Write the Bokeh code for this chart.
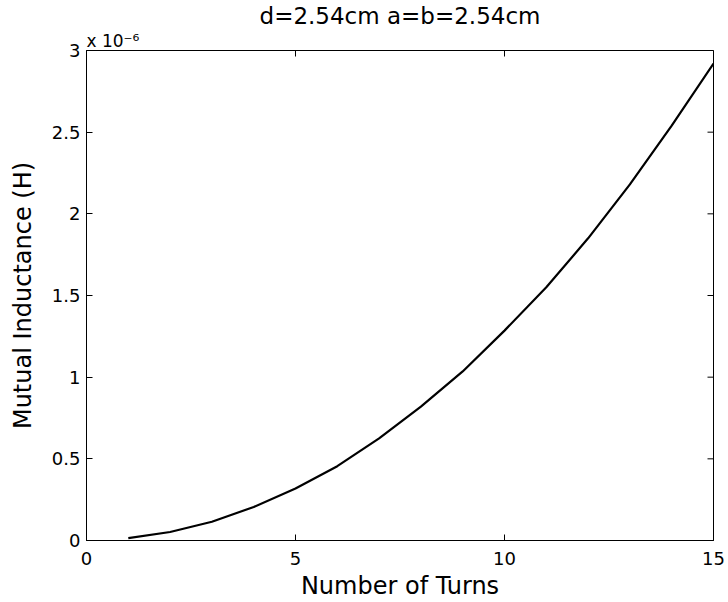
import math
from bokeh.plotting import figure
from bokeh.models import Range1d, Title, FixedTicker
from bokeh.embed import file_html
from bokeh.resources import INLINE

# Data (inductance in units of 1e-6 H)
turns = [1, 2, 3, 4, 5, 6, 7, 8, 9, 10, 11, 12, 13, 14, 15]
mutual_uH = [0.015, 0.052, 0.115, 0.205, 0.318, 0.455, 0.625, 0.82, 1.035,
             1.285, 1.55, 1.85, 2.18, 2.54, 2.92]
x_ticks = [0, 5, 10, 15]
y_ticks = [0, 0.5, 1, 1.5, 2, 2.5, 3]
y_tick_labels = {0: "0", 0.5: "0.5", 1: "1", 1.5: "1.5", 2: "2", 2.5: "2.5", 3: "3"}
title_text = "d=2.54cm a=b=2.54cm"
multiplier_text = "x 10\u207b\u2076"
xlabel = "Number of Turns"
ylabel = "Mutual Inductance (H)"

X_MIN, X_MAX = 0, 15
Y_MIN, Y_MAX = 0, 3

FONT = "DejaVu Sans"
TICK_FS = "18px"
LABEL_FS = "24px"

p = figure(width=728, height=602, output_backend="svg", toolbar_location=None,
           x_range=Range1d(X_MIN, X_MAX), y_range=Range1d(Y_MIN, Y_MAX),
           min_border_left=86, min_border_right=15, min_border_top=48,
           min_border_bottom=62)
p.background_fill_color = "white"
p.border_fill_color = "white"
p.grid.visible = False
p.outline_line_color = "black"
p.outline_line_width = 1

p.line(turns, mutual_uH, line_color="black", line_width=2.2)

# inward ticks on the top and right edges (outer halves are clipped by the frame)
p.scatter(x=x_ticks, y=[Y_MAX] * len(x_ticks), marker="dash", size=12,
          angle=math.pi / 2, line_color="black", line_width=1)
p.scatter(x=[X_MAX] * len(y_ticks), y=y_ticks, marker="dash", size=12,
          angle=0, line_color="black", line_width=1)

xa = p.xaxis[0]
ya = p.yaxis[0]
xa.ticker = FixedTicker(ticks=x_ticks)
ya.ticker = FixedTicker(ticks=y_ticks)
ya.major_label_overrides = y_tick_labels
for ax in (xa, ya):
    ax.axis_line_color = "black"
    ax.axis_line_width = 1
    ax.major_tick_in = 6
    ax.major_tick_out = 0
    ax.major_tick_line_color = "black"
    ax.minor_tick_line_color = None
    ax.major_label_text_font = FONT
    ax.major_label_text_font_size = TICK_FS
    ax.major_label_text_color = "black"
    ax.axis_label_text_font = FONT
    ax.axis_label_text_font_size = LABEL_FS
    ax.axis_label_text_font_style = "normal"
    ax.axis_label_text_color = "black"
xa.major_label_standoff = 11
ya.major_label_standoff = 6
xa.axis_label = xlabel
ya.axis_label = ylabel
xa.axis_label_standoff = 4
ya.axis_label_standoff = 12

mult = Title(text=multiplier_text, align="left", text_font=FONT,
             text_font_size="17px", text_font_style="normal", text_color="black",
             standoff=0, offset=0)
p.add_layout(mult, "above")

p.title.text = title_text
p.title.align = "center"
p.title.text_font = FONT
p.title.text_font_size = "23px"
p.title.text_font_style = "normal"
p.title.text_color = "black"
p.title.standoff = 0

open("out.html", "w").write(file_html(p, INLINE))
